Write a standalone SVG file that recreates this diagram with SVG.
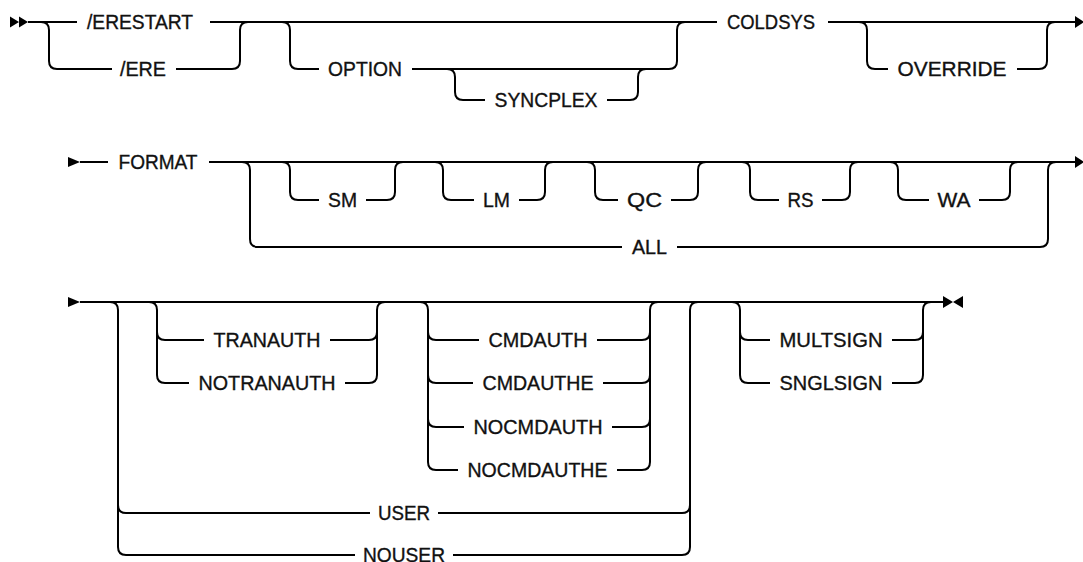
<svg xmlns="http://www.w3.org/2000/svg" width="1083" height="562" viewBox="0 0 1083 562">
<style>
.ln{fill:none;stroke:#000;stroke-width:2;stroke-linejoin:round}
.mk{fill:#000;stroke:none}
text{font-family:"Liberation Sans",Arial,sans-serif;font-size:20px;fill:#111;stroke:#111;stroke-width:0.35;text-anchor:middle;dominant-baseline:central;lengthAdjust:spacingAndGlyphs}
</style>
<rect width="1083" height="562" fill="#fff"/>
<g id="connectors">
<path class="mk" d="M10,16.5 L19,22 L10,27.5 Z M19,16.5 L28,22 L19,27.5 Z"/>
<path class="ln" d="M28,22 L77,22 M210,22 L717,22 M828,22 L1077,22"/>
<path class="mk" d="M1075,16 L1084,22 L1075,28 Z"/>
<path class="ln" d="M41,22 Q49,22 49,30 L49,61 Q49,69 57,69 L112,69 M176,69 L232,69 Q240,69 240,61 L240,30 Q240,22 248,22"/>
<path class="ln" d="M282,22 Q290,22 290,30 L290,61 Q290,69 298,69 L319,69 M412,69 L669,69 Q677,69 677,61 L677,30 Q677,22 685,22"/>
<path class="ln" d="M447,69 Q455,69 455,77 L455,92 Q455,100 463,100 L485,100 M607,100 L630,100 Q638,100 638,92 L638,77 Q638,69 646,69"/>
<path class="ln" d="M859,22 Q867,22 867,30 L867,61 Q867,69 875,69 L888,69 M1017,69 L1039,69 Q1047,69 1047,61 L1047,30 Q1047,22 1055,22"/>
<path class="mk" d="M68,157 L80,162 L68,167 Z"/>
<path class="ln" d="M80,162 L108,162 M209,162 L1077,162"/>
<path class="mk" d="M1075,156 L1084,162 L1075,168 Z"/>
<path class="ln" d="M242,162 Q250,162 250,170 L250,239 Q250,247 258,247 L622,247 M677,247 L1040,247 Q1048,247 1048,239 L1048,170 Q1048,162 1056,162"/>
<path class="ln" d="M282,162 Q290,162 290,170 L290,192 Q290,200 298,200 L319,200 M366,200 L387,200 Q395,200 395,192 L395,170 Q395,162 403,162"/>
<path class="ln" d="M435,162 Q443,162 443,170 L443,192 Q443,200 451,200 L474,200 M519,200 L537,200 Q545,200 545,192 L545,170 Q545,162 553,162"/>
<path class="ln" d="M587,162 Q595,162 595,170 L595,192 Q595,200 603,200 L618,200 M671,200 L690,200 Q698,200 698,192 L698,170 Q698,162 706,162"/>
<path class="ln" d="M742,162 Q750,162 750,170 L750,192 Q750,200 758,200 L779,200 M822,200 L842,200 Q850,200 850,192 L850,170 Q850,162 858,162"/>
<path class="ln" d="M890,162 Q898,162 898,170 L898,192 Q898,200 906,200 L929,200 M979,200 L1002,200 Q1010,200 1010,192 L1010,170 Q1010,162 1018,162"/>
<path class="mk" d="M68,297 L80,302 L68,307 Z"/>
<path class="ln" d="M80,302 L943,302"/>
<path class="mk" d="M943,296 L953,302 L943,308 Z M963,296 L953,302 L963,308 Z"/>
<path class="ln" d="M110,302 Q118,302 118,310 L118,547 Q118,555 126,555 L355,555 M453,555 L682,555 Q690,555 690,547 L690,310 Q690,302 698,302 M118,505 Q118,513 126,513 L370,513 M438,513 L682,513 Q690,513 690,505"/>
<path class="ln" d="M149,302 Q157,302 157,310 L157,375 Q157,383 165,383 L189,383 M345,383 L369,383 Q377,383 377,375 L377,310 Q377,302 385,302 M157,332 Q157,340 165,340 L204,340 M330,340 L369,340 Q377,340 377,332"/>
<path class="ln" d="M420,302 Q428,302 428,310 L428,462 Q428,470 436,470 L458,470 M617,470 L642,470 Q650,470 650,462 L650,310 Q650,302 658,302 M428,332 Q428,340 436,340 L479,340 M597,340 L642,340 Q650,340 650,332 M428,375 Q428,383 436,383 L473,383 M603,383 L642,383 Q650,383 650,375 M428,419 Q428,427 436,427 L464,427 M612,427 L642,427 Q650,427 650,419"/>
<path class="ln" d="M732,302 Q740,302 740,310 L740,375 Q740,383 748,383 L770,383 M892,383 L915,383 Q923,383 923,375 L923,310 Q923,302 931,302 M740,332 Q740,340 748,340 L770,340 M892,340 L915,340 Q923,340 923,332"/>
</g>
<g id="n-erestart"><text x="140" y="22" textLength="106" lengthAdjust="spacingAndGlyphs">/ERESTART</text></g>
<g id="n-ere"><text x="143" y="69" textLength="46" lengthAdjust="spacingAndGlyphs">/ERE</text></g>
<g id="n-option"><text x="365" y="69" textLength="74" lengthAdjust="spacingAndGlyphs">OPTION</text></g>
<g id="n-syncplex"><text x="546" y="100" textLength="103" lengthAdjust="spacingAndGlyphs">SYNCPLEX</text></g>
<g id="n-coldsys"><text x="771" y="22" textLength="88" lengthAdjust="spacingAndGlyphs">COLDSYS</text></g>
<g id="n-override"><text x="952" y="69" textLength="109" lengthAdjust="spacingAndGlyphs">OVERRIDE</text></g>
<g id="n-format"><text x="158" y="162" textLength="79" lengthAdjust="spacingAndGlyphs">FORMAT</text></g>
<g id="n-sm"><text x="342.5" y="200" textLength="29" lengthAdjust="spacingAndGlyphs">SM</text></g>
<g id="n-lm"><text x="496.5" y="200" textLength="27" lengthAdjust="spacingAndGlyphs">LM</text></g>
<g id="n-qc"><text x="644.5" y="200" textLength="35" lengthAdjust="spacingAndGlyphs">QC</text></g>
<g id="n-rs"><text x="800.5" y="200" textLength="26" lengthAdjust="spacingAndGlyphs">RS</text></g>
<g id="n-wa"><text x="954" y="200" textLength="33" lengthAdjust="spacingAndGlyphs">WA</text></g>
<g id="n-all"><text x="649.5" y="247" textLength="35" lengthAdjust="spacingAndGlyphs">ALL</text></g>
<g id="n-tranauth"><text x="267" y="340" textLength="107" lengthAdjust="spacingAndGlyphs">TRANAUTH</text></g>
<g id="n-notranauth"><text x="267" y="383" textLength="137" lengthAdjust="spacingAndGlyphs">NOTRANAUTH</text></g>
<g id="n-cmdauth"><text x="538" y="340" textLength="99" lengthAdjust="spacingAndGlyphs">CMDAUTH</text></g>
<g id="n-cmdauthe"><text x="538" y="383" textLength="111" lengthAdjust="spacingAndGlyphs">CMDAUTHE</text></g>
<g id="n-nocmdauth"><text x="538" y="427" textLength="129" lengthAdjust="spacingAndGlyphs">NOCMDAUTH</text></g>
<g id="n-nocmdauthe"><text x="537.5" y="470" textLength="140" lengthAdjust="spacingAndGlyphs">NOCMDAUTHE</text></g>
<g id="n-user"><text x="404" y="513" textLength="52" lengthAdjust="spacingAndGlyphs">USER</text></g>
<g id="n-nouser"><text x="404" y="555" textLength="82" lengthAdjust="spacingAndGlyphs">NOUSER</text></g>
<g id="n-multsign"><text x="831" y="340" textLength="103" lengthAdjust="spacingAndGlyphs">MULTSIGN</text></g>
<g id="n-snglsign"><text x="831" y="383" textLength="103" lengthAdjust="spacingAndGlyphs">SNGLSIGN</text></g>
</svg>
